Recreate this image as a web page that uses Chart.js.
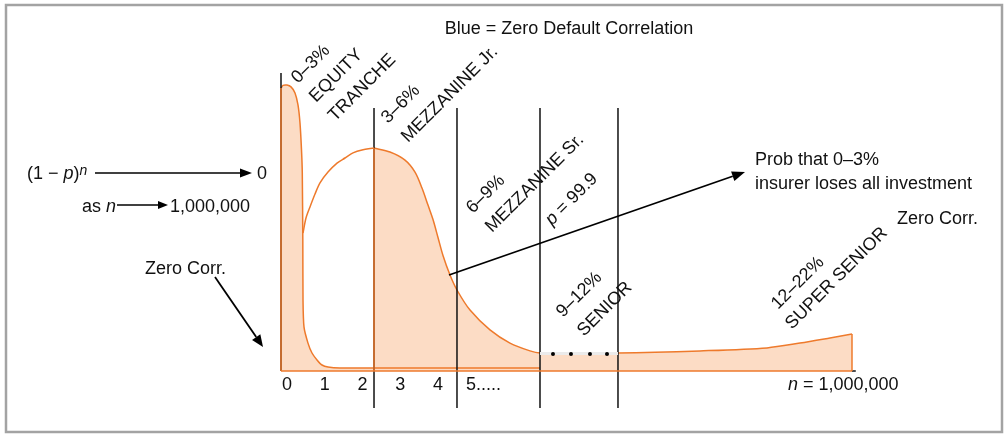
<!DOCTYPE html>
<html><head><meta charset="utf-8">
<script src="https://cdn.jsdelivr.net/npm/chart.js@4.4.0/dist/chart.umd.min.js"></script>
<style>html,body{margin:0;padding:0;background:#fff;}canvas{display:block;}</style>
</head><body>
<canvas id="c" width="1004" height="434"></canvas>
<script>
// ---- data (x in loss units, y in relative probability density) ----
const zeroCorrX = [-0.159, -0.106, 0, 0.106, 0.212, 0.291, 0.344, 0.384, 0.405, 0.419, 0.424, 0.450, 0.556, 0.662, 0.795, 0.927, 1.086, 1.404, 6.702];
const zeroCorrY = [94.3, 95.2, 95.3, 94.7, 92.7, 88.7, 82.7, 73.7, 66, 43.7, 23.7, 14.7, 9.3, 6, 3.7, 2, 1.3, 1, 1];
const humpLeftX = [0.424, 0.503, 0.609, 0.742, 0.874, 1.086, 1.325, 1.536, 1.748, 1.987, 2.305];
const humpLeftY = [46, 51, 54.7, 59, 62.7, 66.3, 69.3, 71, 72.7, 73.7, 74.3];
const humpRightX = [2.305, 2.728, 3.126, 3.391, 3.576, 3.735, 3.868, 4.0, 4.132, 4.318, 4.503, 4.848, 5.377, 5.907, 6.437, 6.702, 8.768, 10.94, 12.715, 13.589, 14.384, 14.967];
const humpRightY = [74.3, 73, 70.3, 66.3, 61, 55.3, 50.5, 44.5, 38.5, 32, 27, 20.3, 13.7, 9.3, 6.7, 6, 6, 6.7, 7.7, 9.3, 11, 12.3];
const equityEdgeX = -0.159, equityEdgeTop = 94.3, equityMarkerTop = 99.3;
const humpEdgeX = 2.305, humpEdgeTop = 74.3;
const tailEdgeX = 14.967, tailEdgeTop = 12.3;
const trancheLineX = [2.305, 4.503, 6.702, 8.768];
const trancheLineTop = 87.7, trancheLineBottom = -12.3;
const bandX = [6.702, 8.768], bandY = 5.8;
const dotsX = [7.046, 7.523, 8.026, 8.477], dotsY = 5.7;
const xTickValues = [0, 1, 2, 3, 4];
const xTickLabels = ['0', '1', '2', '3', '4'];

const ORANGE = '#ee7a2c', FILL = '#fcdcc5', BLACK = '#111';
const FONT = "'Liberation Sans', Arial, sans-serif";

function pts(xs, ys) { return xs.map((x, i) => ({x, y: Array.isArray(ys) ? ys[i] : ys})); }
function vline(x, y0, y1) { return [{x, y: y0}, {x, y: y1}]; }

const datasets = [];
// fills
datasets.push({data: pts(humpRightX, humpRightY), borderColor: ORANGE, borderWidth: 1.5, backgroundColor: FILL, fill: 'origin', tension: 0.3, pointRadius: 0, order: 12, clip: false,
  segment: {borderColor: c => (c.p0.parsed.x >= bandX[0] - 1e-6 && c.p1.parsed.x <= bandX[1] + 1e-6) ? 'rgba(0,0,0,0)' : ORANGE}});
datasets.push({data: pts(zeroCorrX, zeroCorrY), borderColor: ORANGE, borderWidth: 1.5, backgroundColor: FILL, fill: 'origin', tension: 0.2, pointRadius: 0, order: 11, clip: false});
// black tranche boundaries
trancheLineX.forEach(x => datasets.push({data: vline(x, trancheLineBottom, trancheLineTop), borderColor: BLACK, borderWidth: 1.5, pointRadius: 0, fill: false, order: 9, clip: false}));
datasets.push({data: vline(equityEdgeX, 0, equityMarkerTop), borderColor: BLACK, borderWidth: 1.5, pointRadius: 0, fill: false, order: 9, clip: false});
// band and hump-left
datasets.push({data: pts(bandX, bandY), borderColor: '#ebebeb', borderWidth: 3, pointRadius: 0, fill: false, order: 6, clip: false});
datasets.push({data: pts(humpLeftX, humpLeftY), borderColor: ORANGE, borderWidth: 1.5, pointRadius: 0, fill: false, tension: 0.3, order: 5, clip: false});
// orange edges
datasets.push({data: vline(equityEdgeX, 0, equityEdgeTop), borderColor: ORANGE, borderWidth: 1.5, pointRadius: 0, fill: false, order: 3, clip: false});
datasets.push({data: vline(humpEdgeX, 0, humpEdgeTop), borderColor: ORANGE, borderWidth: 1.5, pointRadius: 0, fill: false, order: 3, clip: false});
datasets.push({data: vline(tailEdgeX, 0, tailEdgeTop), borderColor: ORANGE, borderWidth: 1.5, pointRadius: 0, fill: false, order: 3, clip: false});
datasets.push({data: [{x: tailEdgeX, y: 0}, {x: tailEdgeX + 0.1, y: 0}], borderColor: BLACK, borderWidth: 1.5, pointRadius: 0, fill: false, order: 3, clip: false});
datasets.push({data: [{x: equityEdgeX, y: 0}, {x: tailEdgeX, y: 0}], borderColor: ORANGE, borderWidth: 1.5, pointRadius: 0, fill: false, order: 2, clip: false});
// dots
datasets.push({data: pts(dotsX, dotsY), showLine: false, pointRadius: 2, pointBackgroundColor: '#000', pointBorderWidth: 0, order: 1, clip: false});

function arrow(ctx, x1, y1, x2, y2, hl, hw, lw) {
  const a = Math.atan2(y2 - y1, x2 - x1);
  const bx = x2 - hl * Math.cos(a), by = y2 - hl * Math.sin(a);
  ctx.save();
  ctx.strokeStyle = '#000'; ctx.fillStyle = '#000'; ctx.lineWidth = lw;
  ctx.beginPath(); ctx.moveTo(x1, y1); ctx.lineTo(bx, by); ctx.stroke();
  ctx.beginPath(); ctx.moveTo(x2, y2);
  ctx.lineTo(bx + hw * Math.sin(a), by - hw * Math.cos(a));
  ctx.lineTo(bx - hw * Math.sin(a), by + hw * Math.cos(a));
  ctx.closePath(); ctx.fill();
  ctx.restore();
}
function runs(ctx, list, x, y) {
  let cx = x;
  list.forEach(r => {
    ctx.font = (r.it ? 'italic ' : '') + (r.s || 18) + 'px ' + FONT;
    ctx.fillText(r.t, cx, y + (r.dy || 0));
    cx += ctx.measureText(r.t).width;
  });
}

const rotLabels = [
  ['0\u20133%', 298, 84], ['EQUITY', 316, 103], ['TRANCHE', 335, 122],
  ['3\u20136%', 388, 124], ['MEZZANINE Jr.', 408, 143],
  ['6\u20139%', 473, 214], ['MEZZANINE Sr.', 492, 233],
  ['9\u201312%', 563, 318], ['SENIOR', 584, 337],
  ['12\u201322%', 778, 310], ['SUPER SENIOR', 792, 330]
];

const annot = {
  id: 'annot',
  beforeDraw(chart) {
    const ctx = chart.ctx;
    ctx.save(); ctx.fillStyle = '#fff'; ctx.fillRect(0, 0, chart.width, chart.height); ctx.restore();
  },
  afterDraw(chart) {
    const ctx = chart.ctx, xs = chart.scales.x;
    ctx.save();
    ctx.fillStyle = '#111'; ctx.textBaseline = 'alphabetic';
    // frame
    ctx.strokeStyle = '#a3a3a3'; ctx.lineWidth = 2.5;
    ctx.strokeRect(6, 5, 996, 427);
    // title
    ctx.font = '18px ' + FONT; ctx.textAlign = 'center';
    ctx.fillText('Blue = Zero Default Correlation', 569, 33.5);
    // x tick labels
    xTickValues.forEach((v, i) => ctx.fillText(xTickLabels[i], xs.getPixelForValue(v), 389.5));
    ctx.textAlign = 'left';
    ctx.fillText('5.....', 466, 389.5);
    runs(ctx, [{t: 'n', it: true}, {t: ' = 1,000,000'}], 788, 389.5);
    // left annotations
    runs(ctx, [{t: '(1 \u2212 '}, {t: 'p', it: true}, {t: ')'}, {t: 'n', it: true, s: 14, dy: -4}], 27, 178.5);
    arrow(ctx, 95, 173, 252, 173, 12, 4.5, 1.6);
    ctx.font = '18px ' + FONT; ctx.fillText('0', 257, 178.5);
    runs(ctx, [{t: 'as '}, {t: 'n', it: true}], 82, 211.5);
    arrow(ctx, 117, 205, 168, 205, 10, 4, 1.3);
    ctx.font = '18px ' + FONT; ctx.fillText('1,000,000', 170, 211.5);
    ctx.fillText('Zero Corr.', 145, 273.5);
    arrow(ctx, 215, 277, 263, 347, 12, 5, 1.8);
    // right annotations
    arrow(ctx, 449, 275, 745, 172, 13, 5, 1.8);
    ctx.fillText('Prob that 0\u20133%', 755, 164.5);
    ctx.fillText('insurer loses all investment', 755, 188.5);
    ctx.textAlign = 'right';
    ctx.fillText('Zero Corr.', 978, 223.5);
    ctx.textAlign = 'left';
    // rotated tranche labels
    rotLabels.forEach(([t, x, y]) => {
      ctx.save(); ctx.translate(x, y); ctx.rotate(-Math.PI / 4);
      ctx.font = '18px ' + FONT; ctx.fillText(t, 0, 0); ctx.restore();
    });
    ctx.save(); ctx.translate(552, 226); ctx.rotate(-Math.PI / 4);
    runs(ctx, [{t: 'p', it: true}, {t: ' = 99.9'}], 0, 0); ctx.restore();
    ctx.restore();
  }
};

new Chart(document.getElementById('c'), {
  type: 'line',
  data: {datasets},
  options: {
    responsive: false, animation: false, devicePixelRatio: 1,
    layout: {padding: {left: 280, right: 144, top: 71, bottom: 63}},
    plugins: {legend: {display: false}, tooltip: {enabled: false}},
    scales: {
      x: {type: 'linear', min: -0.1854, max: 15.179, display: false},
      y: {min: 0, max: 100, display: false}
    }
  },
  plugins: [annot]
});
</script>
</body></html>
